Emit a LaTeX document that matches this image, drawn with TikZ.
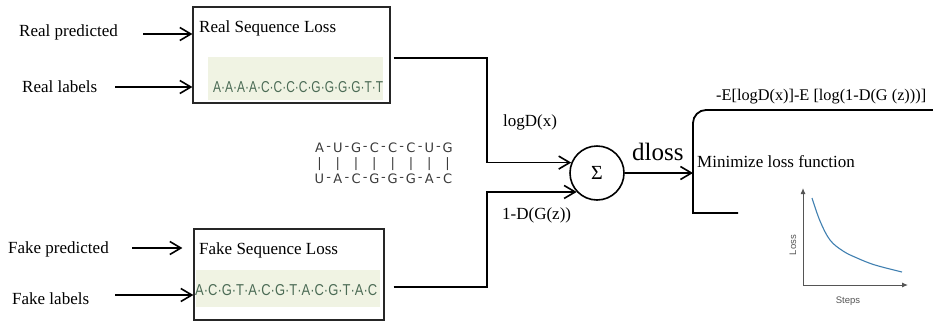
\documentclass[tikz,border=0pt]{standalone}
\usepackage{fontspec}
\usepackage{graphicx}
\setmainfont{Liberation Serif}
\setsansfont{Liberation Sans}
\newfontfamily\rnafont{DejaVu Sans}
\usetikzlibrary{arrows.meta,calc}
\definecolor{stripbg}{HTML}{F0F3E3}
\definecolor{seqtxt}{HTML}{4B6B55}
\definecolor{rnatxt}{HTML}{3A3A3A}
\definecolor{plotgrey}{HTML}{555555}
\definecolor{curveblue}{HTML}{3F7FB0}
\begin{document}
\begin{tikzpicture}[x=1pt,y=-1pt,
  lbl/.style={anchor=west,inner sep=0pt,font=\fontsize{17}{20}\selectfont},
  box/.style={draw=black!85,line width=1.2pt,inner sep=0pt},
  strip/.style={fill=stripbg,inner sep=0pt},
  conn/.style={line width=1.8pt},
  arr/.style={line width=1.8pt,-{Straight Barb[length=11pt,width=13pt,line width=1.6pt]}},
  seq/.style={inner sep=0pt,anchor=west,text=seqtxt,font=\sffamily},
  rna/.style={inner sep=0pt,text=rnatxt,font=\rnafont\fontsize{13}{15}\selectfont},
  ptxt/.style={inner sep=0pt,text=plotgrey,font=\sffamily\fontsize{9.5}{11}\selectfont},
  axis/.style={draw=plotgrey,line width=1pt,-{Latex[length=6pt,width=5pt]}}]
\useasboundingbox (0,0) rectangle (933,322);

% boxes
\node[box,minimum width=197pt,minimum height=96pt] (realbox) at (291.5,55) {};
\node[strip,minimum width=175pt,minimum height=43pt] (realstrip) at (295.5,78.5) {};
\node[lbl] (realtitle) at (199,28) {Real Sequence Loss};
\node[seq] (realseq) at (213,87) {\resizebox{170pt}{11pt}{A·A·A·A·C·C·C·C·G·G·G·G·T·T}};

\node[box,minimum width=190pt,minimum height=91pt] (fakebox) at (289,274.5) {};
\node[strip,minimum width=184pt,minimum height=37pt] (fakestrip) at (288,288.5) {};
\node[lbl] (faketitle) at (199,250) {Fake Sequence Loss};
\node[seq] (fakeseq) at (195,290) {\resizebox{182pt}{11pt}{A·C·G·T·A·C·G·T·A·C·G·T·A·C}};

% left labels
\node[lbl] (rp) at (19,32) {Real predicted};
\node[lbl] (rl) at (22,87) {Real labels};
\node[lbl] (fp) at (8,249) {Fake predicted};
\node[lbl] (fl) at (12,299) {Fake labels};
\coordinate (rpt) at (143,34);
\coordinate (rlt) at (115,87);
\coordinate (fpt) at (132,248);
\coordinate (flt) at (115,295);
\draw[arr] (rpt) -- (rpt -| realbox.west);
\draw[arr] (rlt) -- (rlt -| realbox.west);
\draw[arr,shorten >=11pt] (fpt) -- (fpt -| fakebox.west);
\draw[arr] (flt) -- (flt -| fakebox.west);

% RNA duplex
\foreach \l [count=\i] in {A,U,G,C,C,C,U,G}
  \node[rna] (top\i) at ({319.5+18.3*(\i-1)},148) {\l};
\foreach \l [count=\i] in {U,A,C,G,G,G,A,C}
  \node[rna] (bot\i) at ({319.5+18.3*(\i-1)},179) {\l};
\foreach \i in {1,...,8}
  \node[rna] (bar\i) at ({319.5+18.3*(\i-1)},164.5) {|};
\foreach \i in {1,...,7} {
  \node[rna] (th\i) at ({328.6+18.3*(\i-1)},148) {-};
  \node[rna] (bh\i) at ({328.6+18.3*(\i-1)},179) {-};
}

% sum node
\node[draw,circle,line width=1.6pt,minimum size=54pt,inner sep=0pt,
      font=\fontsize{20}{24}\selectfont] (sigma) at (597,173) {Σ};
\coordinate (rs) at ($(realbox.east)+(3,3)$);
\coordinate (fs) at ($(fakebox.east)+(9,12.5)$);
\draw[arr] (rs) -- (487,58) |- (sigma.158);
\draw[arr] (fs) -- (487,287) |- (sigma.223);
\node[lbl] (logd) at (503,122) {logD(x)};
\node[lbl] (oned) at (502,215) {1-D(G(z))};

% output
\coordinate (brk) at (693,173);
\draw[arr] (sigma.east) -- (brk);
\node[lbl,font=\fontsize{25}{28}\selectfont] (dloss) at (632,152) {dloss};
\draw[conn] (738,213) -- (693,213) -- (693,123)
  arc[start angle=180,end angle=270,radius=13] -- (933,110);
\node[lbl,font=\fontsize{16.3}{19}\selectfont] (eq) at (716,97) {-E[logD(x)]-E [log(1-D(G (z)))]};
\node[lbl] (minf) at (697,162) {Minimize loss function};

% loss plot
\coordinate (org) at (803,285);
\draw[axis] (org) -- (803,188);
\draw[axis] (org) -- (908,285);
\draw[curveblue,line width=1.1pt] plot[smooth,tension=0.6] coordinates
  {(812,198) (820,221) (830,240) (843,251) (857,258) (875,265) (902,272)};
\node[ptxt,rotate=90] (losst) at (793,245) {Loss};
\node[ptxt] (stepst) at (848,301) {Steps};
\end{tikzpicture}
\end{document}
